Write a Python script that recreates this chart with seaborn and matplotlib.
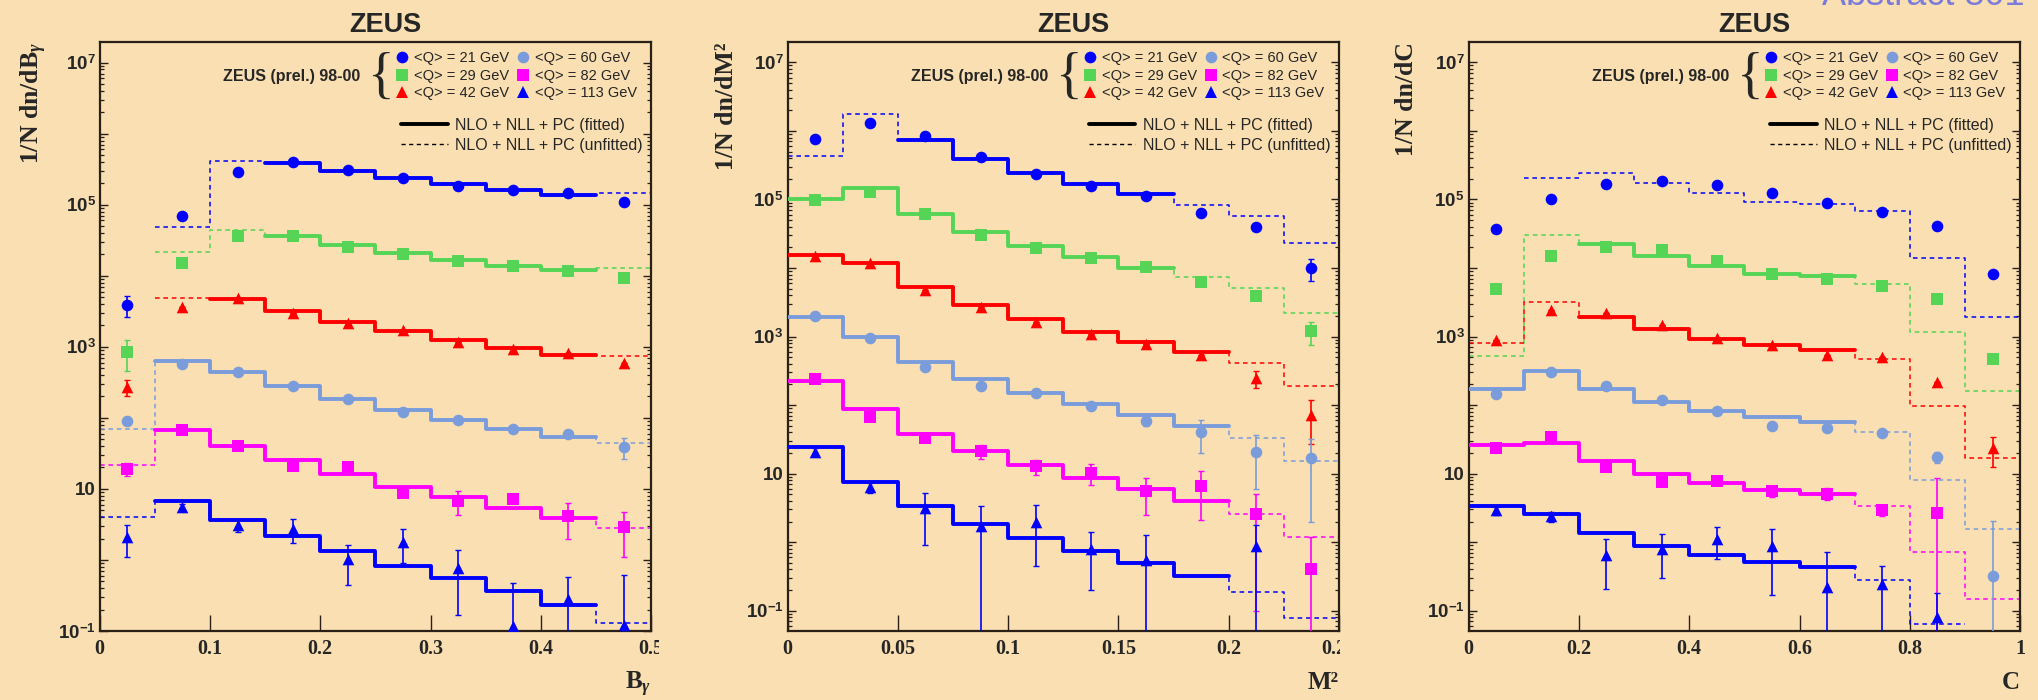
import matplotlib
matplotlib.use("Agg")
import numpy as np
import matplotlib.pyplot as plt
import seaborn as sns
from matplotlib.lines import Line2D
from matplotlib.ticker import FixedLocator, LogLocator, NullFormatter
from matplotlib.transforms import Bbox, TransformedBbox

# ---------------------------------------------------------------- data
q_labels = ["<Q> = 21 GeV", "<Q> = 29 GeV", "<Q> = 42 GeV",
            "<Q> = 60 GeV", "<Q> = 82 GeV", "<Q> = 113 GeV"]
nan = np.nan

# --- B_gamma distributions
bg_edges = [0.0, 0.05, 0.10, 0.15, 0.20, 0.25, 0.30, 0.35, 0.40, 0.45, 0.50]
bg_q21 = [3900, 6.9e4, 2.87e5, 4.0e5, 3.1e5, 2.35e5, 1.86e5, 1.6e5, 1.45e5, 1.1e5]
bg_q29 = [850, 1.49e4, 3.6e4, 3.6e4, 2.5e4, 2.0e4, 1.6e4, 1.35e4, 1.17e4, 9400]
bg_q42 = [275, 3600, 4800, 2950, 2180, 1700, 1180, 920, 820, 590]
bg_q60 = [91, 565, 440, 280, 183, 122, 94, 69, 59, 39]
bg_q82 = [19, 67, 40, 21, 20.5, 8.8, 6.8, 7.2, 4.2, 2.9]
bg_q113 = [2.1, 5.6, 3.1, 2.75, 1.04, 1.8, 0.77, 0.118, 0.28, 0.12]
bg_e21 = [1300, 0, 0, 0, 0, 0, 0, 0, 0, 0]
bg_e29 = [400, 0, 0, 0, 0, 0, 0, 0, 0, 0]
bg_e42 = [70, 0, 0, 0, 0, 0, 0, 0, 0, 0]
bg_e60 = [12, 0, 0, 0, 0, 0, 0, 8, 0, 13]
bg_e82 = [4, 0, 0, 0, 0, 1.2, 2.5, 0, 2.2, 1.8]
bg_e113 = [1.0, 0.6, 0.6, 1.0, 0.6, 0.9, 0.6, 0.35, 0.3, 0.5]
bg_t21 = [nan, 4.8e4, 4.14e5, 3.9e5, 3.0e5, 2.34e5, 1.95e5, 1.6e5, 1.38e5, 1.48e5]
bg_t29 = [nan, 2.19e4, 4.43e4, 3.6e4, 2.72e4, 2.09e4, 1.66e4, 1.38e4, 1.2e4, 1.29e4]
bg_t42 = [nan, 4840, 4680, 3240, 2240, 1660, 1230, 955, 776, 741]
bg_t60 = [69, 631, 437, 285, 186, 129, 93, 69, 54, 44]
bg_t82 = [21.9, 67.6, 40.7, 25.1, 16.2, 10.8, 7.7, 5.4, 3.9, 2.8]
bg_t113 = [4.0, 6.8, 3.6, 2.14, 1.32, 0.83, 0.55, 0.37, 0.23, 0.13]
bg_fit = [(3, 9), (3, 9), (2, 9), (1, 9), (1, 9), (1, 9)]

# --- jet mass M^2 distributions
m2_edges = [0.0, 0.025, 0.05, 0.075, 0.10, 0.125, 0.15, 0.175, 0.20, 0.225, 0.25]
m2_q21 = [7.6e5, 1.29e6, 8.4e5, 4.1e5, 2.33e5, 1.57e5, 1.13e5, 6.4e4, 3.9e4, 1.0e4]
m2_q29 = [9.8e4, 1.27e5, 6.2e4, 3.0e4, 1.94e4, 1.42e4, 1.02e4, 6.3e3, 3.9e3, 1.2e3]
m2_q42 = [1.5e4, 1.2e4, 4.8e3, 2.7e3, 1.65e3, 1.08e3, 790, 540, 245, 72]
m2_q60 = [2.0e3, 960, 355, 192, 152, 97, 59, 40, 21, 17]
m2_q82 = [237, 68, 33, 21.5, 12.7, 10.3, 5.5, 6.6, 2.6, 0.40]
m2_q113 = [21, 6.3, 3.1, 1.7, 1.95, 0.8, 0.54, nan, 0.87, nan]
m2_e21 = [0, 0, 0, 0, 0, 0, 0, 0, 0, 3500]
m2_e29 = [0, 0, 0, 0, 0, 0, 0, 0, 0, 450]
m2_e42 = [0, 0, 0, 0, 0, 0, 0, 0, 70, 45]
m2_e60 = [0, 0, 0, 0, 20, 0, 10, 20, 15, 15]
m2_e82 = [0, 0, 0, 5, 3, 3.5, 3, 4.5, 2.5, 0.8]
m2_e113 = [3, 1.0, 2.2, 1.7, 1.5, 0.6, 0.75, nan, 0.9, nan]
m2_t21 = [4.37e5, 1.78e6, 7.41e5, 3.89e5, 2.45e5, 1.66e5, 1.19e5, 8.3e4, 5.75e4, 2.34e4]
m2_t29 = [1.02e5, 1.45e5, 6.03e4, 3.39e4, 2.09e4, 1.45e4, 1.01e4, 7.4e3, 5.1e3, 2.24e3]
m2_t42 = [1.55e4, 1.2e4, 5.25e3, 2.88e3, 1.78e3, 1.17e3, 832, 603, 407, 191]
m2_t60 = [1950, 1000, 427, 240, 151, 102, 70.8, 49, 33.1, 15.5]
m2_t82 = [224, 87, 38, 21.4, 13.2, 8.7, 6.0, 4.0, 2.6, 1.17]
m2_t113 = [24.5, 7.6, 3.4, 1.86, 1.14, 0.74, 0.49, 0.32, 0.19, 0.078]
m2_fit = [(2, 7), (0, 7), (0, 8), (0, 8), (0, 8), (0, 8)]

# --- C-parameter distributions
c_edges = [0.0, 0.1, 0.2, 0.3, 0.4, 0.5, 0.6, 0.7, 0.8, 0.9, 1.0]
c_q21 = [3.7e4, 1.0e5, 1.66e5, 1.86e5, 1.6e5, 1.23e5, 8.8e4, 6.6e4, 4.1e4, 8.1e3]
c_q29 = [4.9e3, 1.5e4, 2.0e4, 1.84e4, 1.28e4, 8.1e3, 6.9e3, 5.4e3, 3.5e3, 470]
c_q42 = [890, 2400, 2200, 1480, 950, 760, 540, 500, 220, 23.5]
c_q60 = [145, 300, 187, 117, 83, 50, 46, 39, 17.5, 0.32]
c_q82 = [23.5, 34, 12.6, 7.5, 7.9, 5.5, 5.1, 2.9, 2.7, nan]
c_q113 = [2.9, 2.4, 0.66, 0.80, 1.12, 0.87, 0.22, 0.245, 0.081, nan]
c_e21 = [0, 0, 0, 0, 0, 0, 0, 0, 0, 0]
c_e29 = [0, 0, 0, 0, 0, 0, 0, 0, 0, 0]
c_e42 = [0, 0, 0, 0, 0, 0, 0, 0, 0, 11]
c_e60 = [0, 0, 0, 0, 0, 0, 0, 0, 3, 1.7]
c_e82 = [2, 0, 1, 0, 0, 1, 1, 0.5, 6, nan]
c_e113 = [0.4, 0.4, 0.45, 0.5, 0.55, 0.7, 0.5, 0.2, 0.1, nan]
c_t21 = [nan, 2.04e5, 2.45e5, 1.74e5, 1.26e5, 9.3e4, 8.5e4, 6.8e4, 1.41e4, 1.9e3]
c_t29 = [513, 3.02e4, 2.24e4, 1.48e4, 1.07e4, 8.1e3, 7.7e3, 5.75e3, 1.15e3, 162]
c_t42 = [794, 3160, 1950, 1290, 933, 741, 646, 473, 98, 17]
c_t60 = [174, 309, 170, 112, 81, 66, 57.5, 40.7, 8.1, 1.55]
c_t82 = [26.3, 28.2, 15.5, 10.0, 7.4, 5.8, 5.0, 3.4, 0.71, 0.15]
c_t113 = [3.4, 2.57, 1.38, 0.89, 0.66, 0.52, 0.44, 0.28, 0.063, nan]
c_fit = [None, (2, 7), (2, 7), (0, 7), (0, 7), (0, 7)]

bg_xticks = [0, 0.1, 0.2, 0.3, 0.4, 0.5]
bg_xticklabels = ["0", "0.1", "0.2", "0.3", "0.4", "0.5"]
m2_xticks = [0, 0.05, 0.1, 0.15, 0.2, 0.25]
m2_xticklabels = ["0", "0.05", "0.1", "0.15", "0.2", "0.25"]
c_xticks = [0, 0.2, 0.4, 0.6, 0.8, 1.0]
c_xticklabels = ["0", "0.2", "0.4", "0.6", "0.8", "1"]

# ---------------------------------------------------------------- style
sns.set_theme(style="ticks")
BG = "#F9DFB1"
SANS = ["Liberation Sans", "DejaVu Sans"]
SERIF = ["Liberation Serif", "DejaVu Serif"]
plt.rcParams.update({
    "figure.facecolor": BG, "axes.facecolor": BG, "savefig.facecolor": BG,
    "font.family": SANS,
    "mathtext.fontset": "custom",
    "mathtext.rm": "Liberation Serif:bold",
    "mathtext.bf": "Liberation Sans:bold",
    "mathtext.it": "Liberation Serif:italic:bold",
    "axes.edgecolor": "#2a2018", "axes.linewidth": 1.6,
})

COLORS = ["#0000FF", "#55D455", "#FF0000", "#7B9CDB", "#FF00FF", "#0000FF"]
MARKERS = ["o", "s", "^", "o", "s", "^"]
DASH = (0, (3, 2.5))

panels = [
    dict(edges=bg_edges,
         points=[bg_q21, bg_q29, bg_q42, bg_q60, bg_q82, bg_q113],
         errors=[bg_e21, bg_e29, bg_e42, bg_e60, bg_e82, bg_e113],
         theory=[bg_t21, bg_t29, bg_t42, bg_t60, bg_t82, bg_t113],
         fits=bg_fit, xticks=bg_xticks, xticklabels=bg_xticklabels,
         xlim=(0, 0.5), ylim=(0.1, 1.95e7),
         xlabel=r"B$_{\gamma}$", ylabel=r"1/N dn/dB$_{\gamma}$"),
    dict(edges=m2_edges,
         points=[m2_q21, m2_q29, m2_q42, m2_q60, m2_q82, m2_q113],
         errors=[m2_e21, m2_e29, m2_e42, m2_e60, m2_e82, m2_e113],
         theory=[m2_t21, m2_t29, m2_t42, m2_t60, m2_t82, m2_t113],
         fits=m2_fit, xticks=m2_xticks, xticklabels=m2_xticklabels,
         xlim=(0, 0.25), ylim=(0.0506, 1.98e7),
         xlabel="M\u00b2", ylabel="1/N dn/dM\u00b2"),
    dict(edges=c_edges,
         points=[c_q21, c_q29, c_q42, c_q60, c_q82, c_q113],
         errors=[c_e21, c_e29, c_e42, c_e60, c_e82, c_e113],
         theory=[c_t21, c_t29, c_t42, c_t60, c_t82, c_t113],
         fits=c_fit, xticks=c_xticks, xticklabels=c_xticklabels,
         xlim=(0, 1.0), ylim=(0.0506, 1.98e7),
         xlabel="C", ylabel="1/N dn/dC"),
]

W, H = 2038, 700
fig = plt.figure(figsize=(W / 100, H / 100), dpi=100)
lefts = [99.7, 787.5, 1468.6]
ylabel_x = [-0.110, -0.099, -0.101]
axes = [fig.add_axes([l / W, 0.0986, 551.5 / W, 0.8414]) for l in lefts]


def step_xy(edges, vals, a, b):
    xs = list(edges[a:b + 1])
    ys = list(vals[a:b]) + [vals[b - 1]]
    return xs, ys


for ax, p, ylx in zip(axes, panels, ylabel_x):
    ax.set_yscale("log")
    edges = p["edges"]
    centers = [(e0 + e1) / 2 for e0, e1 in zip(edges[:-1], edges[1:])]
    for k in range(6):
        col = COLORS[k]
        th = np.asarray(p["theory"][k], float)
        valid = np.where(~np.isnan(th))[0]
        xs, ys = step_xy(edges, th, valid[0], valid[-1] + 1)
        sns.lineplot(x=xs, y=ys, ax=ax, color=col, lw=1.1, linestyle=DASH,
                     drawstyle="steps-post", estimator=None, sort=False,
                     legend=False, zorder=2)
        if p["fits"][k] is not None:
            a, b = p["fits"][k]
            xs, ys = step_xy(edges, th, a, b)
            sns.lineplot(x=xs, y=ys, ax=ax, color=col, lw=2.8,
                         drawstyle="steps-post", estimator=None, sort=False,
                         legend=False, zorder=3)
        vals = np.asarray(p["points"][k], float)
        errs = np.asarray(p["errors"][k], float)
        ax.errorbar(centers, vals, yerr=errs, fmt="none", ecolor=col,
                    elinewidth=1.2, capsize=2.5, capthick=1.0, zorder=4)
        sns.scatterplot(x=centers, y=vals, ax=ax, marker=MARKERS[k], color=col,
                        s=70, linewidth=0, legend=False, zorder=5)

    ax.set_xlim(*p["xlim"])
    ax.set_ylim(*p["ylim"])

    # x axis
    ax.set_xticks(p["xticks"], p["xticklabels"], fontfamily=SERIF,
                  fontweight="bold", fontsize=14.5)
    ax.tick_params(axis="x", which="major", direction="in", length=11.5,
                   width=1.0, color="#2a2018", bottom=True, top=False, pad=5.8)
    ax.tick_params(axis="x", which="minor", bottom=False, top=False)

    # y axis: a tick every decade, labels every second decade
    decades = list(range(-2, 8))
    yt = [10.0 ** d for d in decades]
    ylab = []
    for d in decades:
        if d % 2 == 0:
            ylab.append("")
        elif d == 1:
            ylab.append("10")
        else:
            ylab.append(r"10$^{\mathbf{%d}}$" % d)
    ax.yaxis.set_major_locator(FixedLocator(yt))
    ax.set_yticks(yt, ylab, fontfamily=SANS, fontweight="bold", fontsize=13.5)
    ax.yaxis.set_minor_locator(LogLocator(base=10, subs=np.arange(2, 10), numticks=200))
    ax.yaxis.set_minor_formatter(NullFormatter())
    ax.set_ylim(*p["ylim"])
    ax.tick_params(axis="y", which="major", direction="in", length=5.8,
                   width=1.0, color="#2a2018", left=True, right=True, pad=3)
    ax.tick_params(axis="y", which="minor", direction="in", length=3.0,
                   width=0.9, color="#2a2018", left=True, right=True)

    # labels and title
    ax.set_title("ZEUS", fontsize=19.5, fontweight="bold", fontfamily=SANS,
                 pad=7.4, x=0.518)
    ax.set_ylabel(p["ylabel"], loc="top", fontfamily=SERIF, fontweight="bold",
                  fontsize=18.5, va="baseline")
    ax.yaxis.set_label_coords(ylx, 1.0)
    ax.set_xlabel(p["xlabel"], loc="right", fontfamily=SERIF, fontweight="bold",
                  fontsize=18, va="baseline")
    ax.xaxis.set_label_coords(1.0, -0.0985)

    # legend block
    ax.text(0.472, 0.9406, "ZEUS (prel.) 98-00", transform=ax.transAxes,
            ha="right", va="center", fontsize=11.5, fontweight="bold")
    ax.text(0.511, 0.937, "{", transform=ax.transAxes, ha="center",
            va="center", fontsize=40, fontfamily=SERIF)
    mk_handles = [Line2D([], [], ls="none", marker=MARKERS[k], color=COLORS[k],
                         ms=8.4, mew=0) for k in range(6)]
    leg1 = ax.legend(mk_handles, q_labels, ncol=2, loc="upper left",
                     bbox_to_anchor=(0.538, 0.984), frameon=False, fontsize=10.5,
                     handlelength=0.8, handletextpad=0.4, columnspacing=0.55,
                     labelspacing=0.22, borderpad=0, borderaxespad=0)
    ax.add_artist(leg1)
    ln_handles = [Line2D([], [], color="black", lw=2.8),
                  Line2D([], [], color="black", lw=1.0, ls=DASH)]
    ax.legend(ln_handles, ["NLO + NLL + PC (fitted)", "NLO + NLL + PC (unfitted)"],
              loc="upper left", bbox_to_anchor=(0.547, 0.871), frameon=False,
              fontsize=11.5, handlelength=2.9, handletextpad=0.45,
              labelspacing=0.3, borderpad=0, borderaxespad=0)

fig.text(2025 / W, 1 - 5 / H, "Abstract 801", ha="right", va="baseline",
         fontsize=26, color="#7B7BDB")

# the first two panels end just past their last x tick label
fig.canvas.draw()
for ax, xmax in [(axes[0], 659), (axes[1], 1340)]:
    clip = TransformedBbox(Bbox([[0, 0], [xmax / W, 1]]), fig.transFigure)
    for t in ax.get_xticklabels():
        t.set_clip_box(clip)
        t.set_clip_on(True)

fig.savefig("out.png", dpi=100)
